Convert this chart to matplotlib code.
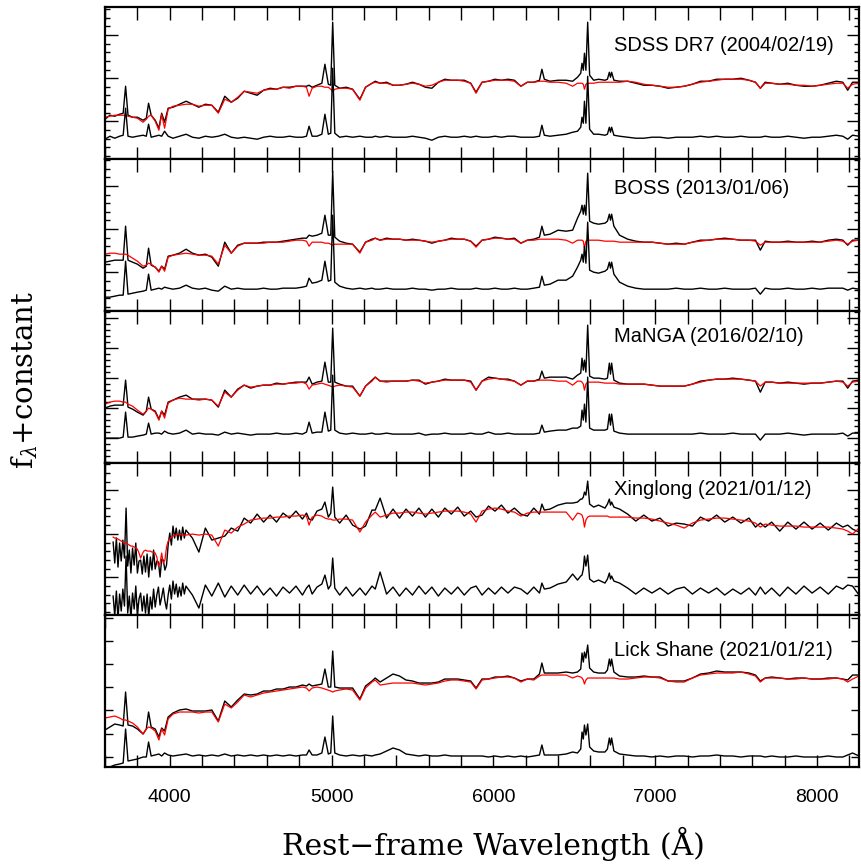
import numpy as np
import matplotlib
matplotlib.use("Agg")
import matplotlib.pyplot as plt
from matplotlib.ticker import MultipleLocator, FixedLocator

plt.rcParams['mathtext.fontset'] = 'dejavuserif'

# rest-frame wavelength grid (Angstrom)
wave = [3600, 3630, 3660, 3690, 3712, 3727, 3742, 3770, 3800, 3835,
        3855, 3869, 3885, 3910, 3933, 3950, 3968, 3990, 4020, 4060,
        4101, 4140, 4180, 4220, 4260, 4300, 4340, 4380, 4420, 4460,
        4500, 4540, 4580, 4620, 4660, 4700, 4740, 4780, 4820, 4845,
        4861, 4880, 4910, 4940, 4959, 4980, 4995, 5007, 5020, 5050,
        5090, 5130, 5175, 5210, 5250, 5270, 5300, 5340, 5380, 5420,
        5460, 5500, 5540, 5580, 5620, 5660, 5700, 5740, 5780, 5820,
        5860, 5893, 5930, 5970, 6010, 6050, 6090, 6130, 6170, 6210,
        6250, 6285, 6300, 6315, 6350, 6400, 6450, 6490, 6520, 6540,
        6548, 6556, 6563, 6572, 6583, 6595, 6620, 6650, 6690, 6705,
        6717, 6724, 6731, 6745, 6780, 6830, 6880, 6930, 6980, 7030,
        7080, 7130, 7180, 7230, 7280, 7330, 7380, 7430, 7480, 7530,
        7580, 7620, 7650, 7680, 7720, 7770, 7820, 7870, 7920, 7970,
        8020, 8070, 8120, 8160, 8190, 8220, 8260]

# host-galaxy model (red) and residual = observed - model, per epoch
sdss_model = [42, 43, 44, 44, 44, 44, 43, 42, 41, 37,
              40, 43, 44, 38, 29, 45, 31, 50, 53, 54,
              55, 55, 53, 54, 54, 46, 60, 57, 62, 68,
              67, 66, 69, 70, 70, 72, 71, 73, 73, 72,
              63, 71, 73, 73, 72, 72, 70, 68, 70, 71,
              71, 70, 59, 72, 76, 77, 76, 76, 74, 74,
              75, 76, 75, 73, 74, 77, 79, 79, 79, 78,
              76, 66, 77, 78, 79, 79, 79, 78, 73, 77,
              77, 78, 78, 78, 77, 77, 76, 73, 76, 76,
              76, 75, 70, 75, 76, 76, 76, 77, 77, 77,
              77, 77, 77, 77, 77, 78, 77, 75, 74, 73,
              72, 72, 73, 75, 77, 78, 79, 80, 80, 80,
              79, 77, 71, 76, 76, 75, 75, 74, 74, 73,
              74, 75, 76, 76, 71, 75, 76]
sdss_resid = [-2, 1, -1, 1, 2, 29, 1, 0, 1, 2,
              1, 13, 0, 1, 2, 1, 6, 1, -1, 1,
              3, 0, -1, 1, 0, 1, 3, 0, -1, 0,
              -1, -2, 0, 1, 0, 0, 1, 0, 0, 1,
              11, 1, 1, 3, 23, 3, 4, 69, 4, 0,
              1, 0, 1, 0, 0, 1, 0, 1, 0, 0,
              0, 1, 0, -1, -3, 0, 1, 0, 0, 1,
              0, 1, 0, 0, 1, 0, 1, 1, 0, 0,
              0, 1, 12, 2, 1, 2, 3, 5, 6, 10,
              20, 14, 36, 14, 61, 8, 3, 3, 2, 3,
              10, 5, 10, 2, 1, 0, -1, -1, 0, 0,
              -1, 0, 0, 0, 1, 0, 1, 0, 0, 1,
              0, 0, 0, 1, 0, 0, 1, 0, -1, 0,
              0, 1, 2, 1, -2, 2, 1]

boss_model = [57, 58, 58, 57, 57, 57, 56, 53, 50, 45,
              46, 48, 47, 44, 39, 45, 40, 54, 56, 57,
              58, 57, 56, 56, 55, 47, 66, 58, 65, 68,
              68, 68, 68, 69, 69, 69, 70, 71, 71, 70,
              65, 69, 69, 69, 68, 68, 67, 66, 67, 67,
              67, 67, 58, 69, 71, 73, 71, 72, 72, 72,
              71, 71, 71, 70, 69, 70, 71, 72, 72, 72,
              70, 64, 71, 72, 73, 73, 72, 72, 68, 71,
              71, 72, 72, 72, 72, 72, 71, 68, 71, 71,
              71, 70, 63, 70, 71, 71, 71, 71, 70, 70,
              70, 70, 70, 70, 69, 69, 69, 69, 69, 68,
              67, 67, 67, 69, 70, 71, 72, 72, 72, 71,
              71, 70, 66, 69, 69, 69, 69, 69, 69, 69,
              69, 70, 71, 70, 67, 70, 71]
boss_resid = [-8, -8, -7, -6, -6, 28, -5, -4, -3, -2,
              -1, 15, -1, 0, 1, 0, 2, 1, 0, 1,
              4, 1, 0, 1, -1, -2, 3, 0, 1, 0,
              0, 0, 1, 0, 0, 1, 1, 1, 2, 3,
              11, 6, 7, 9, 28, 8, 9, 74, 7, 3,
              1, 0, 1, 0, 1, 0, 0, 1, 0, 0,
              0, 1, 0, 0, -1, 0, 0, 1, 0, 0,
              0, 1, 0, 0, 1, 0, 0, 1, 0, 0,
              1, 2, 13, 4, 5, 9, 9, 13, 22, 29,
              35, 27, 43, 26, 67, 19, 17, 16, 18, 20,
              27, 21, 27, 15, 7, 3, 1, 0, 0, 0,
              0, 1, 0, 0, 1, 0, 0, 1, 0, 0,
              0, 1, -5, 1, 0, 0, 1, 0, 0, 1,
              0, 1, 1, 1, -1, 1, 0]

manga_model = [59, 61, 62, 62, 61, 61, 59, 57, 53, 49,
               52, 55, 54, 51, 43, 52, 45, 60, 63, 65,
               64, 64, 63, 64, 63, 57, 71, 66, 73, 78,
               76, 77, 78, 78, 79, 79, 80, 80, 81, 79,
               74, 78, 79, 80, 79, 78, 77, 76, 77, 78,
               77, 76, 67, 77, 82, 86, 82, 81, 82, 82,
               82, 83, 82, 80, 81, 82, 83, 83, 83, 83,
               81, 73, 82, 84, 85, 84, 83, 82, 78, 82,
               82, 83, 83, 83, 83, 82, 82, 78, 82, 82,
               81, 79, 73, 79, 81, 81, 81, 81, 80, 80,
               80, 80, 80, 80, 79, 79, 79, 79, 78, 77,
               77, 77, 77, 79, 81, 83, 84, 84, 84, 84,
               83, 82, 77, 81, 81, 80, 80, 80, 80, 80,
               80, 81, 82, 81, 77, 81, 82]
manga_resid = [-4, -4, -4, -4, -3, 22, -3, -3, -2, -1,
               0, 11, 0, 1, 1, 0, 3, 1, 0, 1,
               4, 0, 1, 0, 0, -1, 2, 0, 1, 0,
               -1, 0, 0, 0, 1, 0, 0, 1, 0, 2,
               12, 1, 2, 2, 22, 3, 4, 59, 4, 1,
               0, 1, 0, 0, 1, 0, 0, 1, 0, 0,
               0, 0, 1, -1, 0, 0, 1, 0, 0, 0,
               1, 0, 0, 2, 0, 0, 1, 0, 0, 0,
               0, 1, 9, 2, 3, 4, 4, 6, 6, 8,
               24, 14, 30, 12, 57, 6, 4, 4, 4, 5,
               20, 9, 20, 3, 1, 0, 0, 0, 0, 0,
               0, 0, 0, 0, 1, 0, 0, 0, 1, 0,
               0, 0, -6, 0, 0, 0, 1, 0, -1, 0,
               0, 0, 0, 1, -2, 1, 1]

# Xinglong: finer sampling in the noisy blue end, then the common grid from 4140 A
xl_wave = [3650, 3660, 3670, 3680, 3690, 3700, 3710, 3720, 3730, 3740,
           3750, 3760, 3770, 3780, 3790, 3800, 3810, 3820, 3830, 3840,
           3850, 3860, 3870, 3880, 3890, 3900, 3910, 3920, 3930, 3940,
           3950, 3960, 3970, 3980, 3990, 4000, 4010, 4020, 4030, 4040,
           4050, 4060, 4070, 4080, 4090, 4100] + wave[21:]
xl_model = [78, 77, 77, 76, 75, 74, 73, 72, 72, 71,
            70, 69, 69, 68, 67, 66, 62, 57, 61, 64,
            65, 64, 64, 64, 63, 63, 62, 58, 49, 52,
            62, 52, 55, 68, 74, 76, 78, 79, 80, 80,
            81, 81, 80, 80, 80, 80,
            81, 80, 81, 80, 69, 85, 82, 88, 91,
            95, 96, 97, 97, 98, 98, 99, 99, 100, 99,
            90, 98, 100, 99, 97, 96, 96, 95, 95, 96,
            96, 95, 83, 93, 100, 103, 98, 100, 102, 102,
            103, 103, 102, 101, 102, 103, 104, 104, 104, 103,
            101, 93, 104, 106, 107, 106, 104, 103, 99, 102,
            103, 103, 103, 103, 103, 103, 103, 95, 102, 101,
            100, 96, 88, 95, 98, 99, 99, 99, 99, 99,
            98, 98, 98, 98, 98, 98, 97, 97, 96, 94,
            92, 90, 87, 92, 95, 96, 97, 97, 96, 95,
            94, 92, 88, 91, 90, 89, 89, 89, 88, 88,
            88, 88, 87, 86, 84, 81, 87]
xl_resid = [-5, -25, 0, -28, -3, -20, 2, -15, 35, -22,
            -5, -27, -2, -18, 5, -24, -8, -2, -20, -5,
            -22, -3, -26, -6, -18, 2, -16, -4, 4, -14,
            -6, 3, -10, -18, -4, 6, -8, 10, -3, 7,
            -6, 4, -5, 8, -3, 5,
            -4, -17, 6, -5, 8, -6, 5, -4, 6,
            -3, 5, -4, 3, -5, 4, -2, 5, -4, 3,
            6, -3, 4, 7, 16, 2, 6, 33, 3, -4,
            4, -5, 3, -4, 5, 2, 19, -3, 4, -5,
            3, -4, 5, -3, 4, -5, 3, -3, 4, -4,
            3, 5, -4, 3, -3, 4, -2, 4, 2, -3,
            4, -2, 8, 2, 3, 7, 9, 17, 11, 15,
            16, 22, 35, 25, 36, 12, 9, 11, 8, 12,
            18, 12, 15, 10, 8, 3, -3, 3, -2, 3,
            -3, 2, 4, -3, 3, -2, 3, -4, 2, -3,
            3, -4, 4, -3, 3, -5, 4, -3, 5, -2,
            4, -3, 5, 2, 6, 5, -4]

lick_model = [49, 50, 51, 49, 47, 47, 46, 44, 40, 33,
              38, 40, 39, 36, 27, 38, 32, 48, 53, 55,
              55, 55, 54, 55, 55, 45, 63, 59, 65, 72,
              70, 72, 74, 75, 76, 77, 78, 79, 80, 79,
              76, 79, 80, 79, 78, 77, 76, 75, 76, 77,
              78, 77, 67, 79, 85, 87, 82, 83, 84, 84,
              84, 84, 83, 82, 83, 84, 86, 87, 87, 86,
              85, 78, 87, 88, 89, 90, 90, 89, 85, 88,
              87, 91, 92, 92, 92, 92, 92, 89, 91, 90,
              89, 87, 83, 87, 89, 89, 89, 89, 89, 89,
              89, 89, 89, 89, 88, 88, 89, 90, 90, 89,
              86, 85, 85, 89, 92, 93, 94, 94, 94, 95,
              93, 91, 85, 89, 89, 89, 88, 88, 89, 88,
              88, 88, 89, 88, 85, 88, 91]
lick_resid = [-12, -10, -8, -7, -6, 28, -4, -3, -2, 0,
              0, 15, 1, 2, 3, 1, 4, 2, 1, 2,
              3, 1, 2, 1, 2, 1, 3, 1, 2, 1,
              2, 1, 2, 1, 2, 1, 2, 1, 2, 2,
              7, 2, 2, 4, 20, 3, 4, 41, 4, 2,
              1, 2, 1, 2, 1, 2, 3, 6, 9, 7,
              3, 2, 1, 2, 1, 1, 2, 1, 1, 1,
              1, 1, 1, 0, 1, 0, 1, 0, 1, 0,
              1, 2, 12, 2, 2, 2, 3, 5, 4, 8,
              25, 18, 32, 22, 33, 10, 6, 5, 5, 8,
              19, 12, 19, 6, 3, 2, 1, 1, 0, 1,
              0, 1, 1, 0, 1, 1, 2, 1, 1, 0,
              1, 1, 1, 0, 1, 0, 0, 1, 0, 0,
              0, 1, 0, 0, 2, 4, 1]

labels = ["SDSS DR7 (2004/02/19)", "BOSS (2013/01/06)", "MaNGA (2016/02/10)",
          "Xinglong (2021/01/12)", "Lick Shane (2021/01/21)"]
waves = [wave, wave, wave, xl_wave, wave]
models = [sdss_model, boss_model, manga_model, xl_model, lick_model]
resids = [sdss_resid, boss_resid, manga_resid, xl_resid, lick_resid]
offsets = [22, 22, 29, 24, 10]          # where the residual spectrum sits
label_y = [0.75, 0.81, 0.833, 0.826, 0.765]
ytick_start = [3.2, 4.1, 1.0, 2.9, 10.3]
ytick_step = [8.65, 8.66, 6.0, 8.7, 23.2]
ytick_major = [5, 5, 5, 5, 1]

fig, axes = plt.subplots(5, 1, sharex=True, figsize=(8.61, 8.65), dpi=100)
fig.subplots_adjust(left=0.122, right=0.9977, top=0.9916, bottom=0.1133, hspace=0)

for i, ax in enumerate(axes):
    w = np.array(waves[i], dtype=float)
    model = np.array(models[i], dtype=float)
    resid = np.array(resids[i], dtype=float)
    obs = model + resid
    ax.plot(w, obs, color='black', lw=1.0)
    ax.plot(w, model, color='red', lw=0.9)
    ax.plot(w, resid + offsets[i], color='black', lw=1.0)

    ax.set_xlim(3600, 8260)
    ax.set_ylim(0, 152)
    ax.text(0.675, label_y[i], labels[i], transform=ax.transAxes,
            fontsize=14.5, family='Liberation Sans', va='center', ha='left')

    ticks = np.arange(ytick_start[i], 152, ytick_step[i])
    major = ticks[ytick_major[i] - 1::ytick_major[i]] if ytick_major[i] > 1 else ticks
    ax.yaxis.set_major_locator(FixedLocator(major))
    ax.yaxis.set_minor_locator(FixedLocator(ticks))
    ax.set_yticklabels([])

    ax.xaxis.set_major_locator(MultipleLocator(1000))
    ax.xaxis.set_minor_locator(MultipleLocator(200))
    ax.tick_params(which='both', direction='in', top=True, right=True, width=1.0)
    ax.tick_params(axis='x', which='both', length=9)
    ax.tick_params(axis='y', which='major', length=9)
    ax.tick_params(axis='y', which='minor', length=3.5)
    if i == 4:
        ax.tick_params(axis='y', which='major', length=6)
    for s in ax.spines.values():
        s.set_linewidth(1.6)

axes[-1].tick_params(axis='x', labelsize=14, pad=16)
for t in axes[-1].get_xticklabels():
    t.set_family('Liberation Sans')

fig.text(0.573, 0.024, 'Rest\u2212frame Wavelength (\u00c5)', ha='center', va='center',
         family='DejaVu Serif', fontsize=21.5)
fig.text(0.029, 0.561, r'f$_\lambda$+constant', rotation=90, ha='center', va='center',
         family='DejaVu Serif', fontsize=21)

fig.savefig('out.png', dpi=100)
